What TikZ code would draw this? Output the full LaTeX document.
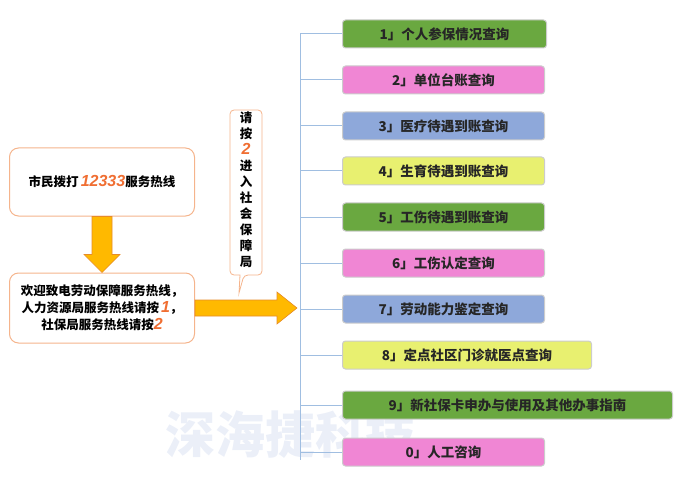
\documentclass[tikz,border=0pt]{standalone}
\usepackage{fontspec}
\setmainfont{Liberation Sans}
\newfontfamily\cjk{Noto Sans CJK SC}
\definecolor{gr}{RGB}{106,168,64}
\definecolor{pk}{RGB}{240,134,212}
\definecolor{bl}{RGB}{142,168,218}
\definecolor{ye}{RGB}{232,240,112}
\definecolor{ob}{RGB}{245,180,140}
\definecolor{ln}{RGB}{160,190,225}
\definecolor{ar}{RGB}{255,185,0}
\definecolor{arb}{RGB}{230,140,40}
\definecolor{num}{RGB}{240,110,50}
\begin{document}
\begin{tikzpicture}[x=1pt,y=-1pt,
 item/.style={draw=black!20,line width=1pt,rounded corners=3pt,anchor=west,minimum height=28pt,font=\cjk\bfseries\fontsize{13.5}{15}\selectfont,text=black!85},
 lbox/.style={draw=ob,line width=1pt,rounded corners=9pt,fill=white,font=\cjk\bfseries\fontsize{12.5}{17}\selectfont,align=center,inner sep=1pt},
 conn/.style={draw=ln,line width=1pt},
 big/.style={fill=ar,draw=arb,line width=0.6pt}]
\useasboundingbox (0,0) rectangle (692,494);
\node[font=\cjk\bfseries\fontsize{50}{50}\selectfont,text=bl!18] (wm) at (290,435) {深海捷科技};
\coordinate (top) at (300,34);
\coordinate (bot) at (300,460);
\draw[conn] (top) -- (bot);
\foreach \n/\y/\c/\w/\t in {1/34/gr/204/1」个人参保情况查询,2/80/pk/202/2」单位台账查询,3/126/bl/202/3」医疗待遇到账查询,4/171/ye/202/4」生育待遇到账查询,5/217/gr/202/5」工伤待遇到账查询,6/263/pk/202/6」工伤认定查询,7/309/bl/202/7」劳动能力鉴定查询,8/355/ye/249/8」定点社区门诊就医点查询,9/405/gr/330/9」新社保卡申办与使用及其他办事指南,10/452/pk/202/0」人工咨询}
 {\node[item,fill=\c,minimum width=\w pt] (b\n) at (342,\y) {\t};
  \coordinate (j\n) at (300,\y);
  \draw[conn] (j\n) -- (b\n.west);}
\node[lbox,minimum width=185pt,minimum height=68pt] (s1) at (102,182) {市民拨打\,{\itshape\fontspec{Liberation Sans}\color{num}\fontsize{16}{16}\selectfont 12333}服务热线};
\node[lbox,minimum width=185pt,minimum height=70pt] (s2) at (102,308) {欢迎致电劳动保障服务热线，\\人力资源局服务热线请按\,{\itshape\fontspec{Liberation Sans}\color{num}\fontsize{16}{16}\selectfont 1}，\\社保局服务热线请按{\itshape\fontspec{Liberation Sans}\color{num}\fontsize{16}{16}\selectfont 2}};
\draw[big] (s1.south)++(-10,0) -- ++(0,38) -- ++(-8,0) -- ++(18,18) -- ++(18,-18) -- ++(-8,0) -- ++(0,-38) -- cycle;
\draw[big] (s2.east)++(0,-8) -- ++(82,0) -- ++(0,-8) -- ++(20,16) -- ++(-20,16) -- ++(0,-8) -- ++(-82,0) -- cycle;
\draw[draw=ob,fill=white,line width=0.8pt,rounded corners=4pt] (230,110) -- (262,110) -- (262,275) -- (244,275) [sharp corners]-- (239,293) -- (240,275) [rounded corners=4pt]-- (230,275) -- cycle;
\node[font=\cjk\bfseries\fontsize{12.5}{16}\selectfont,align=center,inner sep=0pt] (cl) at (246,190) {请\\按\\{\itshape\fontspec{Liberation Sans}\color{num}\fontsize{16}{16}\selectfont 2}\\进\\入\\社\\会\\保\\障\\局};
\end{tikzpicture}
\end{document}
